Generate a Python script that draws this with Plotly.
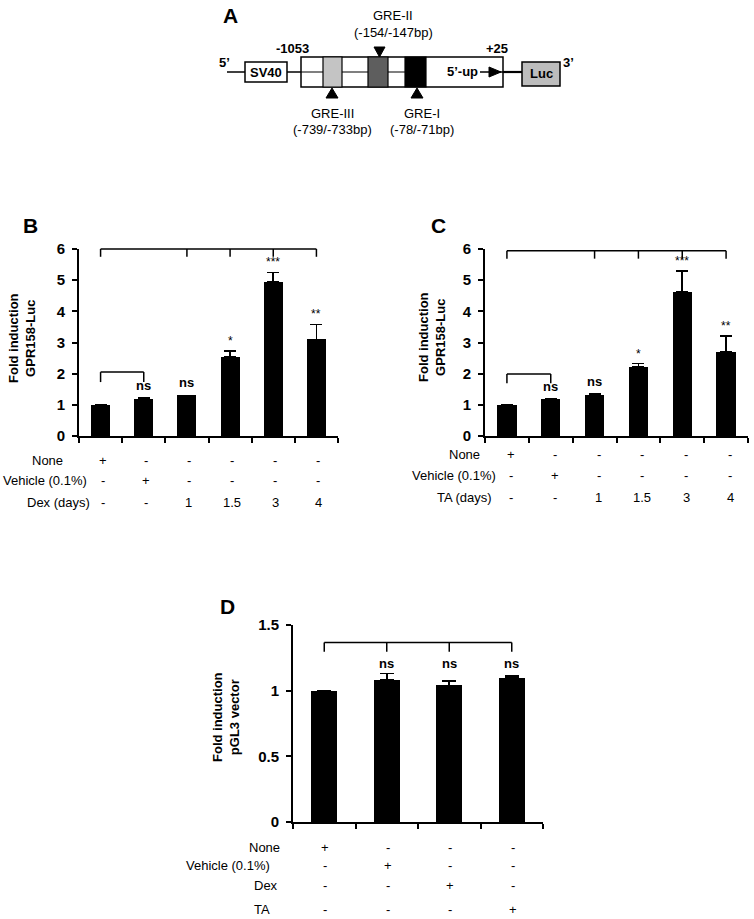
import plotly.graph_objects as go

W, H = 754, 919
FONT = "Arial, 'Liberation Sans', sans-serif"

# ---------------- data ----------------
values_B = [1.0, 1.2, 1.3, 2.55, 4.95, 3.1]
errors_B = [0.0, 0.02, 0.0, 0.18, 0.3, 0.48]
sig_B = ["", "ns", "ns", "*", "***", "**"]
rows_B = ["None", "Vehicle (0.1%)", "Dex (days)"]
rowvals_B = [["+", "-", "-", "-", "-", "-"],
             ["-", "+", "-", "-", "-", "-"],
             ["-", "-", "1", "1.5", "3", "4"]]

values_C = [1.0, 1.2, 1.33, 2.22, 4.62, 2.7]
errors_C = [0.0, 0.0, 0.02, 0.1, 0.68, 0.5]
sig_C = ["", "ns", "ns", "*", "***", "**"]
rows_C = ["None", "Vehicle (0.1%)", "TA (days)"]
rowvals_C = [["+", "-", "-", "-", "-", "-"],
             ["-", "+", "-", "-", "-", "-"],
             ["-", "-", "1", "1.5", "3", "4"]]

values_D = [1.0, 1.08, 1.04, 1.1]
errors_D = [0.0, 0.05, 0.035, 0.01]
sig_D = ["", "ns", "ns", "ns"]
rows_D = ["None", "Vehicle (0.1%)", "Dex", "TA"]
rowvals_D = [["+", "-", "-", "-"],
             ["-", "+", "-", "-"],
             ["-", "-", "+", "-"],
             ["-", "-", "-", "+"]]

yticks_BC = [0, 1, 2, 3, 4, 5, 6]
yticks_D = [0, 0.5, 1, 1.5]
yticktext_D = ["0", "0.5", "1", "1.5"]

fig = go.Figure()
shapes = []
annotations = []


def px_x(p):
    return p / W


def px_y(p):
    return 1 - p / H


def panel(ax, vals, errs, sig, ymax, yticks, yticktext, x0, x1, ytop, ybot,
          barw, capw, rows, rowvals, row_y, row_x, row_anchor, val_shift,
          sig_fixed=None):
    n = len(vals)
    xs = [i + 0.5 for i in range(n)]
    sfx = "" if ax == 1 else str(ax)
    fig.add_trace(go.Bar(
        x=xs, y=vals, width=barw, marker=dict(color="black", line=dict(width=0)),
        error_y=dict(type="data", array=errs, arrayminus=[0] * n, symmetric=False,
                     color="black", thickness=1.6, width=capw),
        xaxis="x" + sfx, yaxis="y" + sfx, showlegend=False,
    ))
    fig.update_layout(**{
        "xaxis" + sfx: dict(domain=[px_x(x0), px_x(x1)], range=[0, n], anchor="y" + sfx,
                            showgrid=False, zeroline=False, showline=True, linecolor="black",
                            linewidth=2, ticks="outside", ticklen=5, tickwidth=2,
                            tickcolor="black", tickvals=list(range(n + 1)),
                            showticklabels=False, fixedrange=True, automargin=False),
        "yaxis" + sfx: dict(domain=[px_y(ybot), px_y(ytop)], range=[0, ymax], anchor="x" + sfx,
                            showgrid=False, zeroline=False, showline=True, linecolor="black",
                            linewidth=2, ticks="outside", ticklen=5, tickwidth=2,
                            tickcolor="black", tickvals=yticks, ticktext=yticktext,
                            ticklabelstandoff=4, automargin=False,
                            tickfont=dict(size=15, family=FONT, color="black", weight="bold"),
                            fixedrange=True),
    })
    # significance labels
    for i in range(n):
        if not sig[i]:
            continue
        star = sig[i].startswith("*")
        if sig_fixed is None:
            annotations.append(dict(
                x=xs[i], y=vals[i] + errs[i], xref="x" + sfx, yref="y" + sfx,
                text=sig[i], showarrow=False, yanchor="bottom", yshift=1 if star else 3,
                font=dict(size=12 if star else 13, family=FONT, color="black",
                          weight="normal" if star else "bold")))
        else:
            annotations.append(dict(
                x=xs[i], y=sig_fixed, xref="x" + sfx, yref="y" + sfx,
                text=sig[i], showarrow=False, yanchor="middle",
                font=dict(size=13, family=FONT, color="black", weight="bold")))
    # condition rows
    for r, name in enumerate(rows):
        annotations.append(dict(
            x=row_x[r], y=row_y[r], xref="x4", yref="y4", text=name, showarrow=False,
            xanchor=row_anchor[r], yanchor="middle",
            font=dict(size=13, family=FONT, color="black")))
        for i in range(n):
            annotations.append(dict(
                x=xs[i], y=row_y[r], xref="x" + sfx, yref="y4", text=rowvals[r][i],
                showarrow=False, xanchor="center", yanchor="middle", xshift=val_shift,
                font=dict(size=13, family=FONT, color="black")))
    return xs, sfx


def bracket(sfx, xs, ymax, i0, i1, ticks, level, depth):
    xr = "x" + sfx
    yr = "y" + sfx + " domain"
    ln = dict(color="black", width=1.5)
    shapes.append(dict(type="line", xref=xr, yref=yr, x0=xs[i0], x1=xs[i1],
                       y0=level / ymax, y1=level / ymax, line=ln))
    for t in ticks:
        shapes.append(dict(type="line", xref=xr, yref=yr, x0=xs[t], x1=xs[t],
                           y0=level / ymax, y1=(level - depth) / ymax, line=ln))


# overlay axes in pixel units for free text and the construct diagram
fig.add_trace(go.Scatter(x=[], y=[], xaxis="x4", yaxis="y4", showlegend=False))
fig.update_layout(
    xaxis4=dict(domain=[0, 1], range=[0, W], visible=False, fixedrange=True, anchor="y4",
                automargin=False),
    yaxis4=dict(domain=[0, 1], range=[H, 0], visible=False, fixedrange=True, anchor="x4",
                automargin=False),
)

xsB, sB = panel(1, values_B, errors_B, sig_B, 6, yticks_BC, [str(t) for t in yticks_BC],
                79, 338, 249, 436, 0.44, 6, rows_B, rowvals_B, [460, 480, 502],
                [65, 89, 92], ["right", "right", "right"], 2)
bracket(sB, xsB, 6, 0, 5, [0, 2, 3, 4, 5], 6.0, 0.25)
bracket(sB, xsB, 6, 0, 1, [0, 1], 2.05, 0.32)

xsC, sC = panel(2, values_C, errors_C, sig_C, 6, yticks_BC, [str(t) for t in yticks_BC],
                485, 748, 249, 436, 0.44, 6, rows_C, rowvals_C, [454, 475, 497],
                [482, 498, 494], ["right", "right", "right"], 4)
bracket(sC, xsC, 6, 0, 5, [0, 2, 3, 4, 5], 5.94, 0.25)
bracket(sC, xsC, 6, 0, 1, [0, 1], 1.99, 0.3)

xsD, sD = panel(3, values_D, errors_D, sig_D, 1.5, yticks_D, yticktext_D,
                293, 543, 625, 822, 0.42, 7, rows_D, rowvals_D, [847, 865, 885, 909],
                [282, 272, 252, 252], ["right", "right", "left", "left"], 1, sig_fixed=1.21)
bracket(sD, xsD, 1.5, 0, 3, [0, 1, 2, 3], 1.366, 0.07)

# panel letters and y titles
for txt, x, y in [("A", 230, 15), ("B", 30, 225), ("C", 438, 225), ("D", 227, 606)]:
    annotations.append(dict(x=x, y=y, xref="x4", yref="y4", text=txt, showarrow=False,
                            font=dict(size=21, family=FONT, color="black", weight="bold")))
for txt, x, y in [("Fold induction<br>GPR158-Luc", 22, 338),
                  ("Fold induction<br>GPR158-Luc", 432, 337),
                  ("Fold induction<br>pGL3 vector", 226, 717)]:
    annotations.append(dict(x=x, y=y, xref="x4", yref="y4", text=txt, showarrow=False,
                            textangle=-90,
                            font=dict(size=13, family=FONT, color="black", weight="bold")))

# ---------------- construct diagram (panel A) ----------------
def pline(x0, y0, x1, y1, w=1.5):
    shapes.append(dict(type="line", xref="x4", yref="y4", x0=x0, y0=y0, x1=x1, y1=y1,
                       line=dict(color="black", width=w)))


def prect(x0, y0, x1, y1, fill, w=1.5):
    shapes.append(dict(type="rect", xref="x4", yref="y4", x0=x0, y0=y0, x1=x1, y1=y1,
                       fillcolor=fill, line=dict(color="black", width=w)))


def ppath(path):
    shapes.append(dict(type="path", xref="x4", yref="y4", path=path, fillcolor="black",
                       line=dict(color="black", width=1)))


def ptext(x, y, t, size=13, bold=False):
    annotations.append(dict(x=x, y=y, xref="x4", yref="y4", text=t, showarrow=False,
                            font=dict(size=size, family=FONT, color="black",
                                      weight="bold" if bold else "normal")))


pline(227, 72, 245, 72)
prect(245, 62, 287, 82, "white")
pline(287, 72, 301, 72)
prect(301, 57, 503, 87, "white")
pline(301, 72, 405, 72, 1.2)
prect(323, 57, 342, 87, "#c4c4c4", 1.2)
prect(368, 57, 388, 87, "#5e5e5e", 1.2)
prect(405, 57, 426, 87, "black", 1.2)
pline(480, 72, 503, 72, 1.5)
pline(503, 72, 522, 72, 2.2)
ppath("M 489,67 L 501,72 L 489,77 Z")
prect(522, 62, 560, 86, "#bdbdbd")
ppath("M 374,47 L 385,47 L 379.5,57 Z")
ppath("M 326,98 L 338,98 L 332,88 Z")
ppath("M 411,98 L 423,98 L 417,88 Z")

ptext(266, 72, "SV40", 13, True)
ptext(541, 73, "Luc", 13, True)
ptext(462, 71, "5’-up", 13, True)
ptext(224, 62, "5’", 13, True)
ptext(568, 62, "3’", 13, True)
ptext(292, 48, "-1053", 13, True)
ptext(497, 48, "+25", 13, True)
ptext(393, 15, "GRE-II", 13)
ptext(393, 32, "(-154/-147bp)", 13)
ptext(332, 113, "GRE-III", 13)
ptext(332, 129, "(-739/-733bp)", 13)
ptext(422, 113, "GRE-I", 13)
ptext(422, 129, "(-78/-71bp)", 13)

fig.update_layout(
    width=W, height=H, margin=dict(l=0, r=0, t=0, b=0, pad=0, autoexpand=False),
    paper_bgcolor="white", plot_bgcolor="rgba(0,0,0,0)",
    font=dict(family=FONT, color="black"),
    shapes=shapes, annotations=annotations, showlegend=False, bargap=0,
)

fig.write_html("out.html", config={"displayModeBar": False},
               post_script="document.body.style.margin='0';document.body.style.overflow='hidden';")
